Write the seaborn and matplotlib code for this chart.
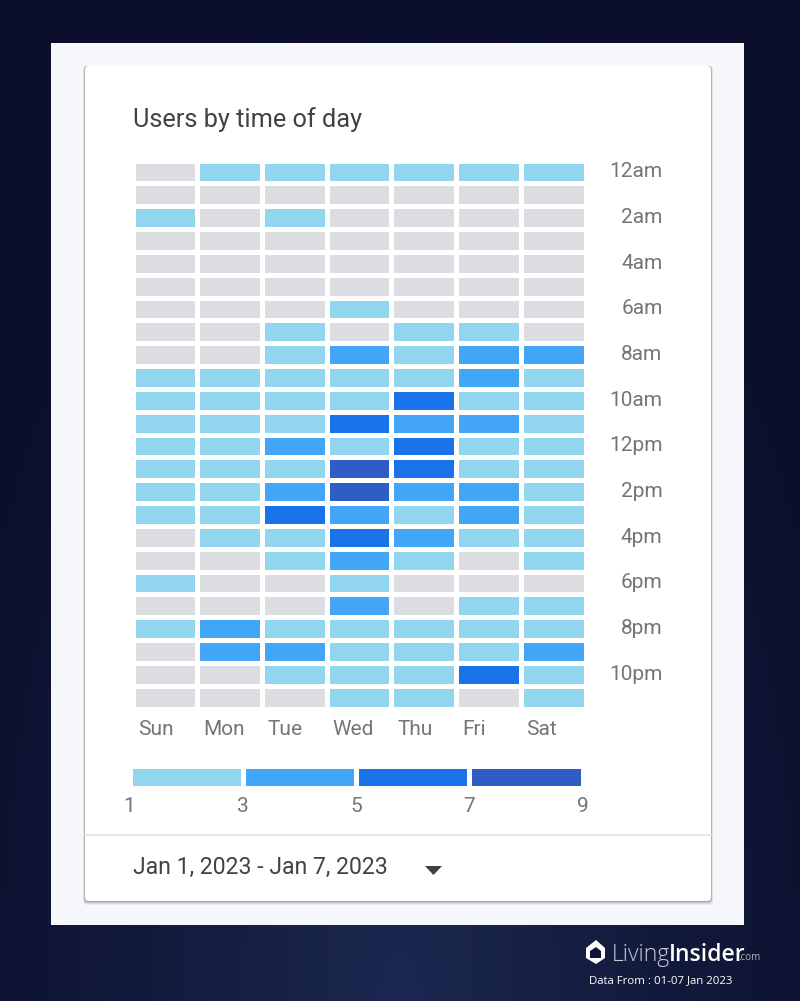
import numpy as np
import matplotlib
matplotlib.use("Agg")
import matplotlib.pyplot as plt
from matplotlib.colors import ListedColormap, BoundaryNorm, LinearSegmentedColormap
from matplotlib.patches import FancyBboxPatch, Rectangle, Polygon
import seaborn as sns

days = ["Sun", "Mon", "Tue", "Wed", "Thu", "Fri", "Sat"]
hours = ["12am", "", "2am", "", "4am", "", "6am", "", "8am", "", "10am", "",
         "12pm", "", "2pm", "", "4pm", "", "6pm", "", "8pm", "", "10pm", ""]
# bucket of users per cell: 0 none, 1 = 1-3, 2 = 3-5, 3 = 5-7, 4 = 7-9
sun = [0,0,1,0,0,0,0,0,0,1,1,1,1,1,1,1,0,0,1,0,1,0,0,0]
mon = [1,0,0,0,0,0,0,0,0,1,1,1,1,1,1,1,1,0,0,0,2,2,0,0]
tue = [1,0,1,0,0,0,0,1,1,1,1,1,2,1,2,3,1,1,0,0,1,2,1,0]
wed = [1,0,0,0,0,0,1,0,2,1,1,3,1,4,4,2,3,2,1,2,1,1,1,1]
thu = [1,0,0,0,0,0,0,1,1,1,3,2,3,3,2,1,2,1,0,0,1,1,1,1]
fri = [1,0,0,0,0,0,0,1,2,2,1,2,1,1,2,2,1,0,0,1,1,1,3,0]
sat = [1,0,0,0,0,0,0,0,2,1,1,1,1,1,1,1,1,1,0,1,1,2,1,1]
legend_buckets = [1, 2, 3, 4]
legend_ticks = ["1", "3", "5", "7", "9"]

colors = ["#dcdde0", "#92d5ee", "#43a5f5", "#1a73e8", "#2e5ec5"]
cmap = ListedColormap(colors)
norm = BoundaryNorm(np.arange(-0.5, 5.5), cmap.N)
matrix = np.array([sun, mon, tue, wed, thu, fri, sat]).T

W, H = 800, 1001
plt.rcParams["font.family"] = ["Roboto", "DejaVu Sans"]
fig = plt.figure(figsize=(W / 100, H / 100), dpi=100)

def px_axes(x0, y0, x1, y1, **kw):
    return fig.add_axes([x0 / W, 1 - y1 / H, (x1 - x0) / W, (y1 - y0) / H], **kw)

# background
bg = px_axes(0, 0, W, H)
yy, xx = np.mgrid[0:1:200j, 0:1:200j]
r = np.sqrt(((xx - 0.5) / 0.62) ** 2 + ((yy - 1.0) / 1.05) ** 2)
bgcmap = LinearSegmentedColormap.from_list("bg", ["#1c2850", "#0a0e2a"])
bg.imshow(np.clip(r, 0, 1), cmap=bgcmap, extent=(0, W, H, 0), aspect="auto", vmin=0, vmax=1)
bg.set_xlim(0, W); bg.set_ylim(H, 0); bg.axis("off")

bg.add_patch(Rectangle((51, 43), 693, 882, fc="#f5f7fa", ec="none"))
for off, a in [(4, .05), (3, .07), (2, .1), (1, .15)]:
    bg.add_patch(FancyBboxPatch((85 - off / 2, 66), 626 + off, 835 + off, boxstyle="round,pad=0,rounding_size=4",
                                fc="#000000", alpha=a, ec="none"))
bg.add_patch(FancyBboxPatch((85, 66), 626, 835, boxstyle="round,pad=0,rounding_size=4", fc="white", ec="none"))
bg.plot([85, 711], [835, 835], color="#e0e0e0", lw=1.2)
bg.add_patch(Polygon([(425, 866), (442, 866), (433.5, 875)], fc="#3c4043", ec="none"))

bg.text(133, 120, "Users by time of day", fontsize=18.3, color="#424242", va="center", ha="left")
bg.text(133, 867, "Jan 1, 2023 - Jan 7, 2023", fontsize=16.6, color="#424242", va="center", ha="left")

# footer brand
bg.add_patch(Polygon([(586, 948), (596, 940), (605, 948), (605, 958), (596, 964), (586, 958)], fc="white", ec="none"))
bg.add_patch(Polygon([(590, 951), (596, 947), (601, 951), (601, 958), (590, 958)], fc="#10163a", ec="none"))
bg.text(612, 955, "Living", fontsize=16.5, color="#c9ccd6", va="center", ha="left", family="Open Sans", fontweight="light")
bg.text(669, 955, "Insider", fontsize=16.5, color="white", va="center", ha="left", family="Open Sans", fontweight="semibold")
bg.text(738, 958, ".com", fontsize=7, color="#aeb2c0", va="center", ha="left", family="Open Sans")
bg.text(589, 981, "Data From : 01-07 Jan 2023", fontsize=8.2, color="white", va="center", ha="left", family="Open Sans")

# heatmap
ax = px_axes(132.5, 160.5, 585.5, 708.5)
ax.patch.set_alpha(0)
sns.heatmap(matrix, ax=ax, cmap=cmap, norm=norm, cbar=False, linewidths=3.6, linecolor="white",
            xticklabels=days, yticklabels=hours, square=False)
ax.yaxis.tick_right()
ax.set_yticks(np.arange(0, 24, 2) + 0.5, hours[::2], rotation=0, ha="right", va="center")
ax.set_xticks(np.arange(7) + 0.09, days, rotation=0, ha="left")
ax.tick_params(axis="y", length=0, pad=55.5, labelsize=15, labelcolor="#757575")
ax.tick_params(axis="x", length=0, pad=8, labelsize=15, labelcolor="#757575")
for s in ax.spines.values():
    s.set_visible(False)

# legend strip
lg = px_axes(129.5, 765.5, 582.5, 787.5)
lg.patch.set_alpha(0)
sns.heatmap(np.array([legend_buckets]), ax=lg, cmap=cmap, norm=norm, cbar=False, linewidths=3.6, linecolor="white",
            xticklabels=False, yticklabels=False)
lg.set_xticks(np.arange(5), legend_ticks, rotation=0)
lg.tick_params(axis="x", length=0, pad=7, labelsize=15, labelcolor="#757575")
lg.tick_params(axis="y", length=0)
lg.set_xlim(0, 4)
for lbl in lg.get_xticklabels():
    lbl.set_clip_on(False)

fig.savefig("out.png", dpi=100)
